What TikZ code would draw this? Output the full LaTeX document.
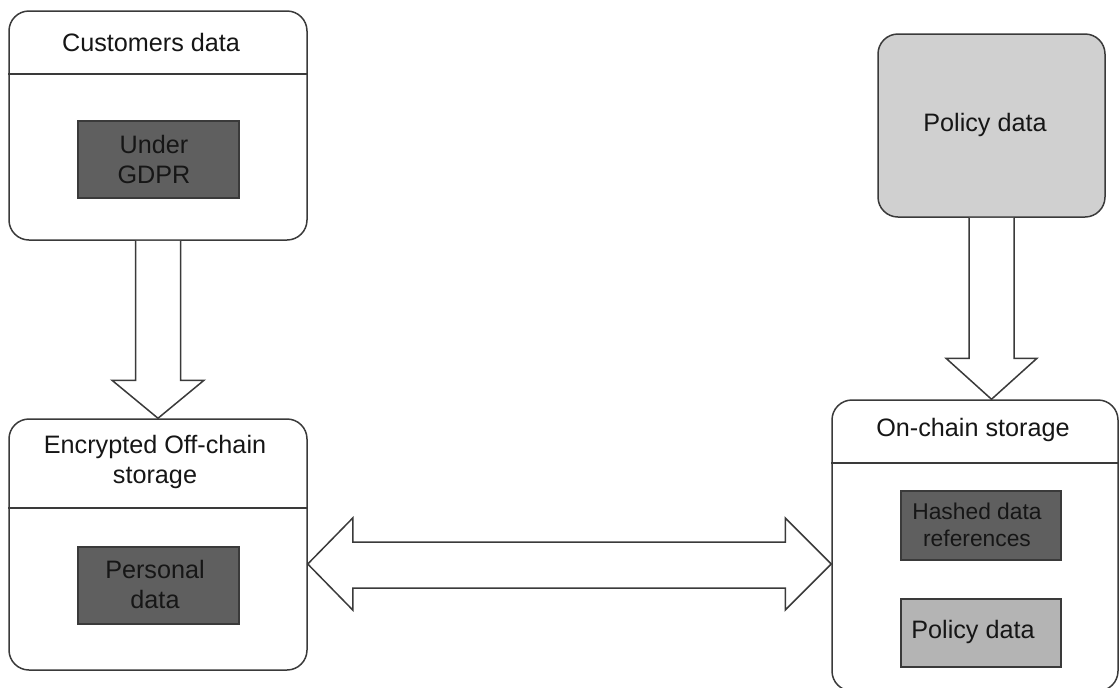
\documentclass[tikz,border=0pt]{standalone}
\usepackage{fontspec}
\setmainfont{Liberation Sans}
\usetikzlibrary{calc}
\definecolor{edge}{HTML}{3A3A3A}
\definecolor{darkfill}{HTML}{5F5F5F}
\definecolor{topfill}{HTML}{D0D0D0}
\definecolor{lightfill}{HTML}{B4B4B4}
\definecolor{ink}{HTML}{161616}
\tikzset{
  bigbox/.style={draw=edge, line width=0.75pt, rounded corners=10pt, fill=white, inner sep=0pt},
  innerbox/.style={draw=edge, line width=0.75pt, inner sep=0pt},
  divider/.style={draw=edge, line width=0.75pt},
  fat/.style={draw=edge, line width=0.75pt, fill=white, line join=miter},
  lbl/.style={text=ink, font=\fontsize{12.6pt}{15pt}\selectfont, align=center, inner sep=0pt},
  smalllbl/.style={text=ink, font=\fontsize{11.4pt}{13.5pt}\selectfont, align=center, inner sep=0pt}
}
\begin{document}
\begin{tikzpicture}[x=0.5pt,y=-0.5pt]
\useasboundingbox[fill=white] (0,0) rectangle (1120,687);
% big boxes
\node[bigbox, minimum width=149pt, minimum height=114.5pt] (b1) at (158,125.5) {};
\node[bigbox, minimum width=149pt, minimum height=125.5pt] (b3) at (158,544.5) {};
\node[bigbox, minimum width=143pt, minimum height=145.5pt] (b4) at (975,545.5) {};
\node[bigbox, fill=topfill, minimum width=113.5pt, minimum height=91.5pt] (p) at (991.5,125.5) {};
% dividers
\draw[divider] (b1.west |- 0,74) -- (b1.east |- 0,74);
\draw[divider] (b3.west |- 0,508) -- (b3.east |- 0,508);
\draw[divider] (b4.west |- 0,463) -- (b4.east |- 0,463);
% inner boxes
\node[innerbox, fill=darkfill, minimum width=80.5pt, minimum height=38.5pt] (i1) at (158.5,159.5) {};
\node[innerbox, fill=darkfill, minimum width=80.5pt, minimum height=38.5pt] (i3) at (158.5,585.5) {};
\node[innerbox, fill=darkfill, minimum width=80pt, minimum height=34.5pt] (i4a) at (981,525.5) {};
\node[innerbox, fill=lightfill, minimum width=80pt, minimum height=34pt] (i4b) at (981,633) {};
% labels
\node[lbl] (t1) at (151,42) {Customers data};
\node[lbl] (t2) at (154,159) {Under\\GDPR};
\node[lbl] (t3) at (985,125) {Policy data};
\node[lbl] (t4) at (155,462) {Encrypted Off-chain\\storage};
\node[lbl] (t5) at (155,584) {Personal\\data};
\node[lbl] (t6) at (973,430) {On-chain storage};
\node[smalllbl] (t7) at (977,524.5) {Hashed data\\references};
\node[lbl] (t8) at (973,632) {Policy data};
% fat arrow: customers -> off-chain
\draw[fat] ($(b1.south)+(-22.5,0)$) -- ($(b3.north)+(-22.5,-38)$) -- ($(b3.north)+(-46,-38)$)
  -- (b3.north) -- ($(b3.north)+(46,-38)$) -- ($(b3.north)+(22.5,-38)$) -- ($(b1.south)+(22.5,0)$);
% fat arrow: policy -> on-chain
\coordinate (ptip) at (b4.north -| p.south);
\draw[fat] ($(p.south)+(-22.5,0)$) -- ($(ptip)+(-22.5,-41)$) -- ($(ptip)+(-45.5,-41)$)
  -- (ptip) -- ($(ptip)+(45.5,-41)$) -- ($(ptip)+(22.5,-41)$) -- ($(p.south)+(22.5,0)$);
% double fat arrow
\coordinate (lt) at ($(b3.east)+(0,19.5)$);
\coordinate (rt) at (b4.west |- lt);
\draw[fat] (lt) -- ($(lt)+(45,-46)$) -- ($(lt)+(45,-22)$) -- ($(rt)+(-46,-22)$) -- ($(rt)+(-46,-46)$)
  -- (rt) -- ($(rt)+(-46,46)$) -- ($(rt)+(-46,24)$) -- ($(lt)+(45,24)$) -- ($(lt)+(45,46)$) -- cycle;
\end{tikzpicture}
\end{document}
